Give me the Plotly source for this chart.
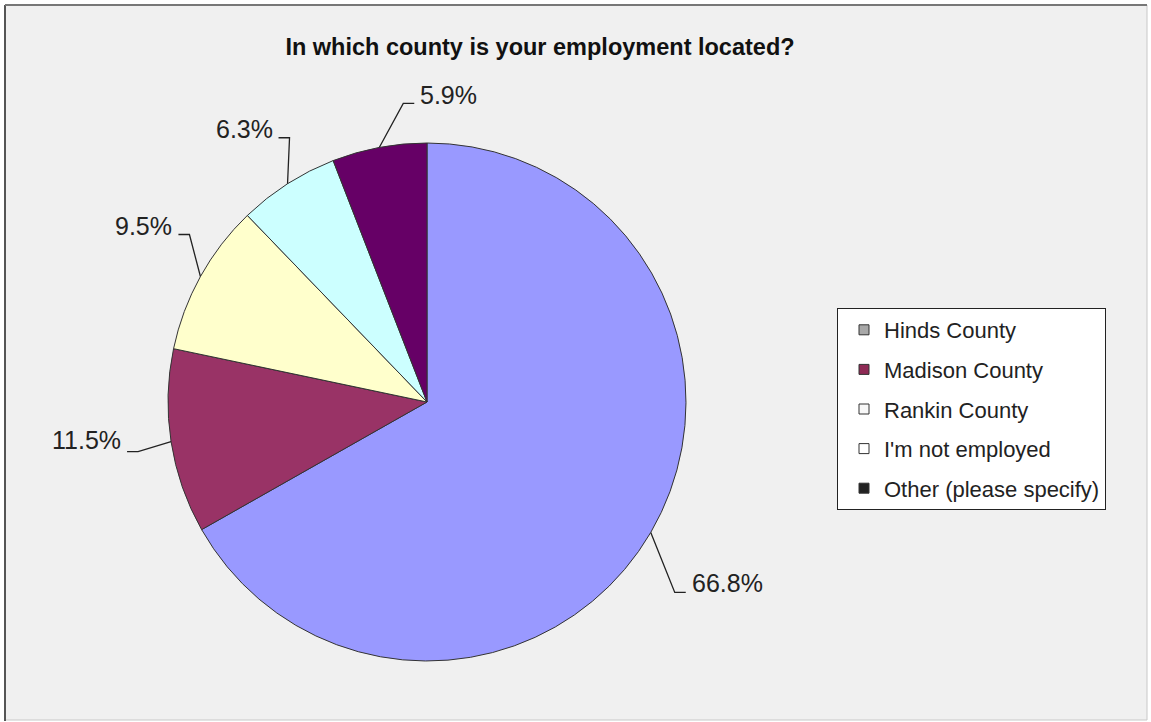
import math
import plotly.graph_objects as go

# ---- data ----
categories = ["Hinds County", "Madison County", "Rankin County", "I'm not employed", "Other (please specify)"]
percentages = [66.8, 11.5, 9.5, 6.3, 5.9]
slice_colors = ["#9999FF", "#993366", "#FFFFCC", "#CCFFFF", "#660066"]
legend_marker_colors = ["#A8A8A8", "#8E2A55", "#F8F8F8", "#FFFFFF", "#222222"]
title_text = "In which county is your employment located?"

# ---- layout parameters (pixels) ----
W, H = 1151, 722
CX, CY, R = 427, 402, 259
# leader-line elbow offsets relative to the slice-edge point (px)
leader_elbow = [(24, 60), (-33, 10), (-11, -42), (2, -46), (24, -44)]
leader_dir = [1, -1, -1, -1, 1]
SEG = 11
TEXT_GAP = 4
TEXT_RAISE = [9, 12, 9, 9, 8]


def px_x(x):
    return x / W


def px_y(y):
    return 1 - y / H


fig = go.Figure()

fig.add_trace(go.Pie(
    labels=categories,
    values=percentages,
    sort=False,
    direction="clockwise",
    rotation=0,
    textinfo="none",
    hoverinfo="label+percent",
    marker=dict(colors=slice_colors, line=dict(color="#333333", width=1)),
    domain=dict(x=[px_x(CX - R), px_x(CX + R)], y=[px_y(CY + R), px_y(CY - R)]),
    showlegend=False,
))

# legend entries (markers as in the reference legend)
for name, col in zip(categories, legend_marker_colors):
    fig.add_trace(go.Scatter(
        x=[None], y=[None], mode="markers", name=name, legendgroup=name,
        marker=dict(symbol="square", size=10, color=col, line=dict(color="#333333", width=1)),
    ))

# leader lines + labels computed from the slice angles
total = sum(percentages)
cum = 0.0
shapes = []
annotations = []
for i, v in enumerate(percentages):
    mid = 90 - 360 * (cum + v / 2) / total
    cum += v
    a = math.radians(mid)
    ax, ay = CX + R * math.cos(a), CY - R * math.sin(a)
    ex, ey = ax + leader_elbow[i][0], ay + leader_elbow[i][1]
    tx = ex + leader_dir[i] * SEG
    path = f"M {px_x(ax)},{px_y(ay)} L {px_x(ex)},{px_y(ey)} L {px_x(tx)},{px_y(ey)}"
    shapes.append(dict(type="path", xref="paper", yref="paper", path=path,
                       line=dict(color="#222222", width=1.3)))
    annotations.append(dict(
        x=px_x(tx + leader_dir[i] * TEXT_GAP), y=px_y(ey - TEXT_RAISE[i]),
        xref="paper", yref="paper", showarrow=False,
        text=f"{v:.1f}%", xanchor="left" if leader_dir[i] > 0 else "right",
        yanchor="middle", font=dict(family="Liberation Sans, Arial", size=25, color="#222222"),
    ))

# chart frame
frame = [
    dict(type="rect", xref="paper", yref="paper", x0=px_x(5), x1=px_x(1147), y0=px_y(720), y1=px_y(5),
         fillcolor="#F0F0F0", line=dict(color="#C8C8C8", width=1), layer="below"),
    dict(type="line", xref="paper", yref="paper", x0=px_x(5), x1=px_x(5), y0=px_y(721), y1=px_y(5),
         line=dict(color="#555555", width=2), layer="below"),
    dict(type="line", xref="paper", yref="paper", x0=px_x(5), x1=px_x(1147), y0=px_y(5), y1=px_y(5),
         line=dict(color="#777777", width=2), layer="below"),
]

fig.update_layout(
    width=W, height=H,
    margin=dict(l=0, r=0, t=0, b=0),
    paper_bgcolor="#FFFFFF",
    plot_bgcolor="rgba(0,0,0,0)",
    xaxis=dict(visible=False),
    yaxis=dict(visible=False),
    title=dict(text=f"<b>{title_text}</b>", x=540 / W, xanchor="center", y=px_y(47), yanchor="middle",
               font=dict(family="Liberation Sans, Arial", size=23.5, color="#111111")),
    legend=dict(x=px_x(837), y=px_y(308), xanchor="left", yanchor="top",
                bgcolor="#FFFFFF", bordercolor="#222222", borderwidth=1,
                font=dict(family="Liberation Sans, Arial", size=22, color="#222222"),
                tracegroupgap=8, traceorder="grouped", indentation=6),
    shapes=frame + shapes,
    annotations=annotations,
)

fig.write_html("out.html", config={"displayModeBar": False},
               post_script="document.body.style.margin='0px';document.body.style.overflow='hidden';")
